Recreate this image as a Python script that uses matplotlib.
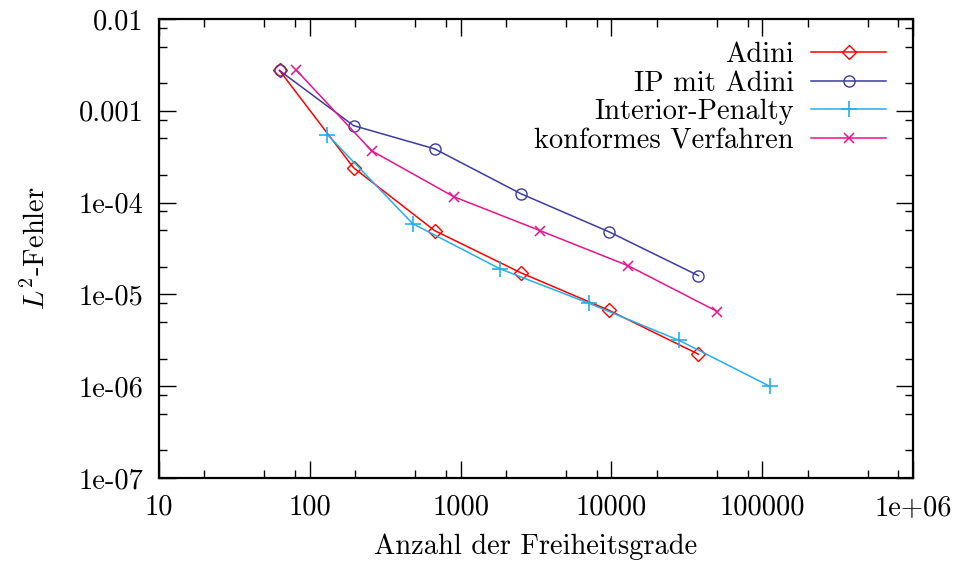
import numpy as np
import matplotlib
matplotlib.use("Agg")
import matplotlib.pyplot as plt
from matplotlib.ticker import FixedLocator, LogLocator, NullFormatter

plt.rcParams['font.family'] = ['cmr10', 'DejaVu Serif']
plt.rcParams['mathtext.fontset'] = 'cm'
plt.rcParams['axes.unicode_minus'] = False

# degrees of freedom and L2 errors for the four methods
dof_adini = [63, 195, 673, 2510, 9660, 37800]
err_adini = [2.75e-3, 2.4e-4, 4.95e-5, 1.72e-5, 6.7e-6, 2.23e-6]

dof_ip_adini = [63, 195, 673, 2510, 9660, 37800]
err_ip_adini = [2.75e-3, 6.9e-4, 3.85e-4, 1.25e-4, 4.8e-5, 1.6e-5]

dof_ip = [131, 481, 1825, 7110, 28200, 112000]
err_ip = [5.5e-4, 5.9e-5, 1.9e-5, 8.0e-6, 3.15e-6, 1.0e-6]

dof_konf = [81, 257, 901, 3365, 12950, 50500]
err_konf = [2.8e-3, 3.67e-4, 1.16e-4, 4.95e-5, 2.05e-5, 6.5e-6]

xticks = [10, 100, 1000, 10000, 100000, 1e6]
xticklabels = ['10', '100', '1000', '10000', '100000', '1e+06']
yticks = [1e-7, 1e-6, 1e-5, 1e-4, 1e-3, 1e-2]
yticklabels = ['1e-07', '1e-06', '1e-05', '1e-04', '0.001', '0.01']

fs = 20.5

fig = plt.figure(figsize=(9.6, 5.64), dpi=100)
ax = fig.add_axes([0.1656, 0.1525, 0.7854, 0.8138])

ax.plot(dof_adini, err_adini, color='#ff0000', lw=1.1, marker='D', ms=7,
        mfc='none', mec='#ff0000', mew=1.0, label='Adini')
ax.plot(dof_ip_adini, err_ip_adini, color='#3c3c9c', lw=1.1, marker='o', ms=8,
        mfc='none', mec='#3c3c9c', mew=1.0, label='IP mit Adini')
ax.plot(dof_ip, err_ip, color='#22b0e8', lw=1.1, marker='+', ms=11,
        mew=1.2, label='Interior-Penalty')
ax.plot(dof_konf, err_konf, color='#e8148c', lw=1.1, marker='x', ms=7,
        mew=1.1, label='konformes Verfahren')

ax.set_xscale('log')
ax.set_yscale('log')
ax.set_xlim(10, 1e6)
ax.set_ylim(1e-7, 1e-2)

ax.xaxis.set_major_locator(FixedLocator(xticks))
ax.set_xticklabels(xticklabels)
ax.yaxis.set_major_locator(FixedLocator(yticks))
ax.set_yticklabels(yticklabels)
ax.xaxis.set_minor_locator(LogLocator(base=10, subs=(2, 5, 8), numticks=20))
ax.yaxis.set_minor_locator(LogLocator(base=10, subs=(2, 5, 8), numticks=20))
ax.xaxis.set_minor_formatter(NullFormatter())
ax.yaxis.set_minor_formatter(NullFormatter())

ax.tick_params(which='both', direction='in', top=True, right=True,
               labelsize=fs, colors='black')
ax.tick_params(which='major', length=12, width=1.0)
ax.tick_params(axis='x', which='major', pad=12)
ax.tick_params(axis='y', which='major', pad=11)
ax.tick_params(which='minor', length=6, width=1.0)
for s in ax.spines.values():
    s.set_linewidth(1.6)

ax.set_xlabel('Anzahl der Freiheitsgrade', fontsize=fs, labelpad=9)
ax.set_ylabel(r'$L^2$-Fehler', fontsize=fs, labelpad=20)

ax.legend(loc='upper right', frameon=False, markerfirst=False, fontsize=fs,
          handlelength=2.65, handletextpad=0.6, labelspacing=0.08,
          borderaxespad=0.0, bbox_to_anchor=(0.98, 0.975))

fig.savefig('out.png', dpi=100)
